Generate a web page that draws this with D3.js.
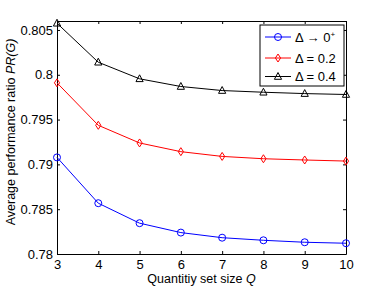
<!DOCTYPE html>
<html>
<head>
<meta charset="utf-8">
<script src="https://cdn.jsdelivr.net/npm/d3@7"></script>
<style>
  body { margin: 0; background: #fff; }
  svg text { font-family: "Liberation Sans", Arial, sans-serif; }
</style>
</head>
<body>
<div id="chart"></div>
<script>
// data
const qSizes = [3, 4, 5, 6, 7, 8, 9, 10];
const prDelta0 = [0.79078, 0.78567, 0.78344, 0.78239, 0.78182, 0.78153, 0.78131, 0.7812];
const prDelta02 = [0.7991, 0.79436, 0.79239, 0.79142, 0.79089, 0.79063, 0.79049, 0.79037];
const prDelta04 = [0.80575, 0.8014, 0.79955, 0.79869, 0.79824, 0.79805, 0.7979, 0.7978];
const yTicks = [0.78, 0.785, 0.79, 0.795, 0.8, 0.805];
const yTickLabels = ["0.78", "0.785", "0.79", "0.795", "0.8", "0.805"];

const series = [
  { name: "d0", values: prDelta0, color: "#0000ff", marker: "circle" },
  { name: "d02", values: prDelta02, color: "#ff0000", marker: "diamond" },
  { name: "d04", values: prDelta04, color: "#000000", marker: "triangle" }
];

const W = 382, H = 287;
const margin = { top: 21, right: 36, bottom: 33, left: 57 };
const width = W - margin.left - margin.right;
const height = H - margin.top - margin.bottom;

const svg = d3.select("#chart").append("svg")
  .attr("width", W).attr("height", H);
const g = svg.append("g")
  .attr("transform", "translate(" + margin.left + "," + margin.top + ")");

const x = d3.scaleLinear().domain([3, 10]).range([0, width]);
const y = d3.scaleLinear().domain([0.78, 0.806]).range([height, 0]);

// axes, matlab style box with inward ticks
function styleAxis(sel) {
  sel.select(".domain").attr("stroke", "#000");
  sel.selectAll(".tick line").attr("stroke", "#000");
  sel.selectAll(".tick text").attr("fill", "#000").attr("font-size", 13);
}
g.append("g")
  .attr("transform", "translate(0," + height + ")")
  .call(d3.axisBottom(x).tickValues(qSizes).tickFormat(d3.format("d"))
    .tickSizeInner(-3).tickSizeOuter(0).tickPadding(6))
  .call(styleAxis);
g.append("g")
  .call(d3.axisTop(x).tickValues(qSizes).tickFormat("")
    .tickSizeInner(-3).tickSizeOuter(0))
  .call(styleAxis);
g.append("g")
  .call(d3.axisLeft(y).tickValues(yTicks)
    .tickFormat((d, i) => yTickLabels[i])
    .tickSizeInner(-3).tickSizeOuter(0).tickPadding(4))
  .call(styleAxis);
g.append("g")
  .attr("transform", "translate(" + width + ",0)")
  .call(d3.axisRight(y).tickValues(yTicks).tickFormat("")
    .tickSizeInner(-3).tickSizeOuter(0))
  .call(styleAxis);

function drawMarker(sel, type, color) {
  if (type === "circle") {
    sel.append("circle").attr("r", 3.5)
      .attr("fill", "none").attr("stroke", color).attr("stroke-width", 1);
  } else if (type === "diamond") {
    sel.append("path").attr("d", "M0,-4L2.6,0L0,4L-2.6,0Z")
      .attr("fill", "none").attr("stroke", color).attr("stroke-width", 1);
  } else {
    sel.append("path").attr("d", "M0,-4L3.6,2.8L-3.6,2.8Z")
      .attr("fill", "none").attr("stroke", color).attr("stroke-width", 1);
  }
}

const line = d3.line().x((d, i) => x(qSizes[i])).y(d => y(d));

series.forEach(function(s) {
  g.append("path")
    .datum(s.values)
    .attr("d", line)
    .attr("fill", "none")
    .attr("stroke", s.color)
    .attr("stroke-width", 1);
  g.selectAll(".m-" + s.name)
    .data(s.values)
    .enter()
    .append("g")
    .attr("class", "m-" + s.name)
    .attr("transform", (d, i) => "translate(" + x(qSizes[i]) + "," + y(d) + ")")
    .each(function() { drawMarker(d3.select(this), s.marker, s.color); });
});

// legend
const lg = svg.append("g").attr("transform", "translate(260,25)");
lg.append("rect").attr("width", 84).attr("height", 61)
  .attr("fill", "#fff").attr("stroke", "#000").attr("stroke-width", 1);
const legendRows = [
  { s: series[0], y: 12 },
  { s: series[1], y: 33 },
  { s: series[2], y: 51.5 }
];
legendRows.forEach(function(r) {
  lg.append("line").attr("x1", 5).attr("x2", 31)
    .attr("y1", r.y).attr("y2", r.y)
    .attr("stroke", r.s.color).attr("stroke-width", 1);
  const m = lg.append("g").attr("transform", "translate(18," + r.y + ")");
  drawMarker(m, r.s.marker, r.s.color);
});
const t0 = lg.append("text").attr("x", 35).attr("y", 12).attr("dy", "0.35em")
  .attr("font-size", 13);
t0.append("tspan").text("\u0394 \u2192 0");
t0.append("tspan").text("+").attr("font-size", 8).attr("dy", "-0.6em");
lg.append("text").attr("x", 35).attr("y", 33).attr("dy", "0.35em")
  .attr("font-size", 13).text("\u0394 = 0.2");
lg.append("text").attr("x", 35).attr("y", 51.5).attr("dy", "0.35em")
  .attr("font-size", 13).text("\u0394 = 0.4");

// axis labels
const xl = svg.append("text")
  .attr("x", margin.left + width / 2).attr("y", 283)
  .attr("text-anchor", "middle").attr("font-size", 12.5);
xl.append("tspan").text("Quantitiy set size ");
xl.append("tspan").text("Q").attr("font-style", "italic");

const yl = svg.append("text")
  .attr("transform", "translate(15,132) rotate(-90)")
  .attr("text-anchor", "middle").attr("font-size", 12.5);
yl.append("tspan").text("Average performance ratio  ");
yl.append("tspan").text("PR(G)").attr("font-style", "italic");
</script>
</body>
</html>
